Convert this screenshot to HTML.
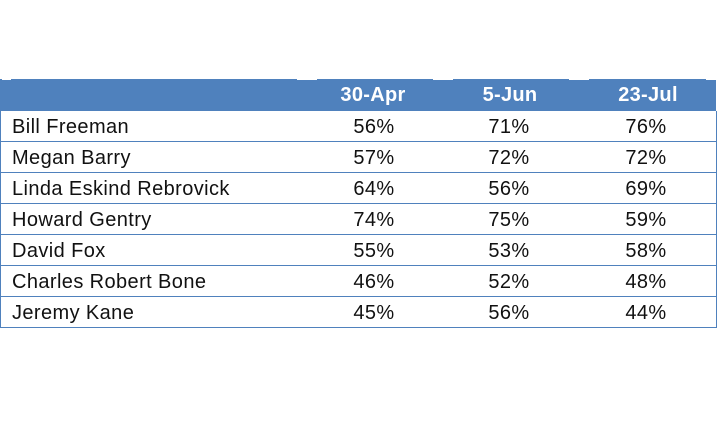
<!DOCTYPE html>
<html><head><style>
body{margin:0;width:717px;height:438px;background:#fff;position:relative;overflow:hidden;font-family:"Liberation Sans",sans-serif;}
.hdr{position:absolute;left:0;top:79px;width:716px;height:32px;background:#4f81bd;}
.row{position:absolute;left:0;width:715px;height:30px;border-left:1px solid #4f81bd;border-right:1px solid #4f81bd;border-bottom:1px solid #4f81bd;}
.t{position:absolute;font-size:20px;line-height:22px;color:#111;letter-spacing:0.4px;}
.h{position:absolute;font-size:20px;font-weight:bold;color:#fff;line-height:22px;letter-spacing:0.3px;}
.c{transform:translateX(-50%);}
.tick{position:absolute;top:79px;height:1px;background:#fff;}
</style></head><body>
<div class="hdr"></div>
<div class="tick" style="left:2px;width:9px"></div>
<div class="tick" style="left:297px;width:20px"></div>
<div class="tick" style="left:433px;width:20px"></div>
<div class="tick" style="left:569px;width:20px"></div>
<div class="tick" style="left:706px;width:10px"></div>
<div class="h c" style="left:373px;top:84px">30-Apr</div>
<div class="h c" style="left:510px;top:84px">5-Jun</div>
<div class="h c" style="left:648px;top:84px">23-Jul</div>

<div class="row" style="top:111px"></div>
<div class="row" style="top:142px"></div>
<div class="row" style="top:173px"></div>
<div class="row" style="top:204px"></div>
<div class="row" style="top:235px"></div>
<div class="row" style="top:266px"></div>
<div class="row" style="top:297px"></div>

<div class="t" style="left:12px;top:116px">Bill Freeman</div>
<div class="t" style="left:12px;top:147px">Megan Barry</div>
<div class="t" style="left:12px;top:178px">Linda Eskind Rebrovick</div>
<div class="t" style="left:12px;top:209px">Howard Gentry</div>
<div class="t" style="left:12px;top:240px">David Fox</div>
<div class="t" style="left:12px;top:271px">Charles Robert Bone</div>
<div class="t" style="left:12px;top:302px">Jeremy Kane</div>

<div class="t c" style="left:374px;top:116px">56%</div><div class="t c" style="left:509px;top:116px">71%</div><div class="t c" style="left:646px;top:116px">76%</div>
<div class="t c" style="left:374px;top:147px">57%</div><div class="t c" style="left:509px;top:147px">72%</div><div class="t c" style="left:646px;top:147px">72%</div>
<div class="t c" style="left:374px;top:178px">64%</div><div class="t c" style="left:509px;top:178px">56%</div><div class="t c" style="left:646px;top:178px">69%</div>
<div class="t c" style="left:374px;top:209px">74%</div><div class="t c" style="left:509px;top:209px">75%</div><div class="t c" style="left:646px;top:209px">59%</div>
<div class="t c" style="left:374px;top:240px">55%</div><div class="t c" style="left:509px;top:240px">53%</div><div class="t c" style="left:646px;top:240px">58%</div>
<div class="t c" style="left:374px;top:271px">46%</div><div class="t c" style="left:509px;top:271px">52%</div><div class="t c" style="left:646px;top:271px">48%</div>
<div class="t c" style="left:374px;top:302px">45%</div><div class="t c" style="left:509px;top:302px">56%</div><div class="t c" style="left:646px;top:302px">44%</div>
</body></html>
